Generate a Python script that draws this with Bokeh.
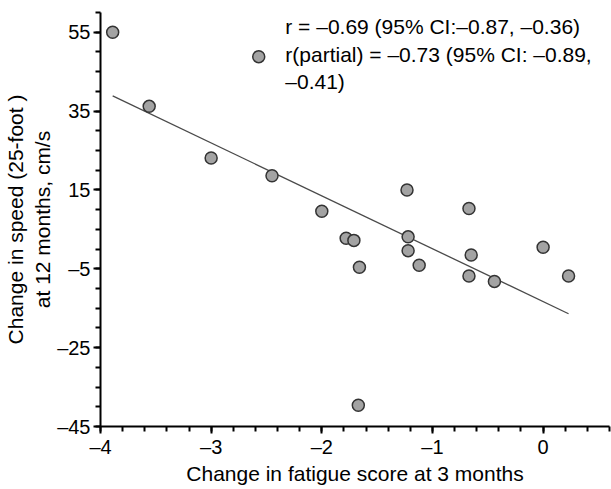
import numpy as np
from bokeh.plotting import figure
from bokeh.models import FixedTicker, Range1d, Label
from bokeh.embed import file_html
from bokeh.resources import INLINE

# Data
fatigue_change = [-3.89, -2.57, -3.56, -3.00, -2.45, -1.23, -2.00, -0.67, -1.78, -1.71,
                  -1.22, -1.22, 0.00, -0.65, -1.66, -1.12, -0.67, -0.44, 0.23, -1.67]
speed_change = [55.0, 48.8, 36.2, 23.1, 18.6, 15.0, 9.6, 10.3, 2.75, 2.2,
                3.1, -0.4, 0.45, -1.5, -4.6, -4.1, -6.85, -8.2, -6.85, -39.6]

x_ticks = [-4, -3, -2, -1, 0]
y_ticks = [-45, -25, -5, 15, 35, 55]

annotation_lines = ["r = \u20130.69 (95% CI:\u20130.87, \u20130.36)",
                    "r(partial) = \u20130.73 (95% CI: \u20130.89,",
                    "\u20130.41)"]

x_label = "Change in fatigue score at 3 months"
y_label = "Change in speed (25-foot )\nat 12 months, cm/s"

FONT = "Liberation Sans"


def dash_label(v):
    return ("\u2013" + str(abs(v))) if v < 0 else str(v)


p = figure(width=611, height=489,
           x_range=Range1d(-4, 0.6), y_range=Range1d(-45, 60),
           output_backend="svg", toolbar_location=None,
           min_border_left=98, min_border_right=2,
           min_border_top=12, min_border_bottom=63)
p.outline_line_color = None
p.grid.visible = False
p.background_fill_color = "white"
p.border_fill_color = "white"

# regression line from data
coef = np.polyfit(np.array(fatigue_change), np.array(speed_change), 1)
xl = np.array([min(fatigue_change), max(fatigue_change)])
p.line(xl, np.polyval(coef, xl), line_color="#4a4a4a", line_width=1.3)

p.scatter(fatigue_change, speed_change, size=12, fill_color="#a3a3a3",
          line_color="#333333", line_width=1.5)

p.xaxis.ticker = FixedTicker(ticks=x_ticks,
                             minor_ticks=[round(float(v), 2) for v in np.arange(-4, 0.61, 0.2)])
p.yaxis.ticker = FixedTicker(ticks=y_ticks,
                             minor_ticks=[float(v) for v in np.arange(-45, 61, 5)])
p.xaxis.major_label_overrides = {v: dash_label(v) for v in x_ticks}
p.yaxis.major_label_overrides = {v: dash_label(v) for v in y_ticks}

for ax in (p.xaxis[0], p.yaxis[0]):
    ax.axis_line_width = 2
    ax.axis_line_color = "black"
    ax.major_tick_line_width = 2
    ax.minor_tick_line_width = 2
    ax.major_tick_line_color = "black"
    ax.minor_tick_line_color = "black"
    ax.major_tick_out = 7
    ax.major_tick_in = 0
    ax.minor_tick_out = 5
    ax.minor_tick_in = 0
    ax.major_label_text_font = FONT
    ax.major_label_text_font_size = "20px"
    ax.major_label_text_color = "black"
    ax.axis_label_text_font = FONT
    ax.axis_label_text_font_size = "21px"
    ax.axis_label_text_font_style = "normal"
    ax.axis_label_text_color = "black"

p.xaxis.axis_label = x_label
p.yaxis.axis_label = y_label
p.xaxis.major_label_standoff = 2
p.xaxis.axis_label_standoff = 1
p.yaxis.major_label_standoff = 3
p.yaxis.axis_label_standoff = 0

p.add_layout(Label(x=-2.33, y=59.3, text="\n".join(annotation_lines),
                   text_font=FONT, text_font_size="21px", text_color="black",
                   text_baseline="top", text_align="left", text_line_height=1.2))

open("out.html", "w").write(file_html(p, INLINE))
